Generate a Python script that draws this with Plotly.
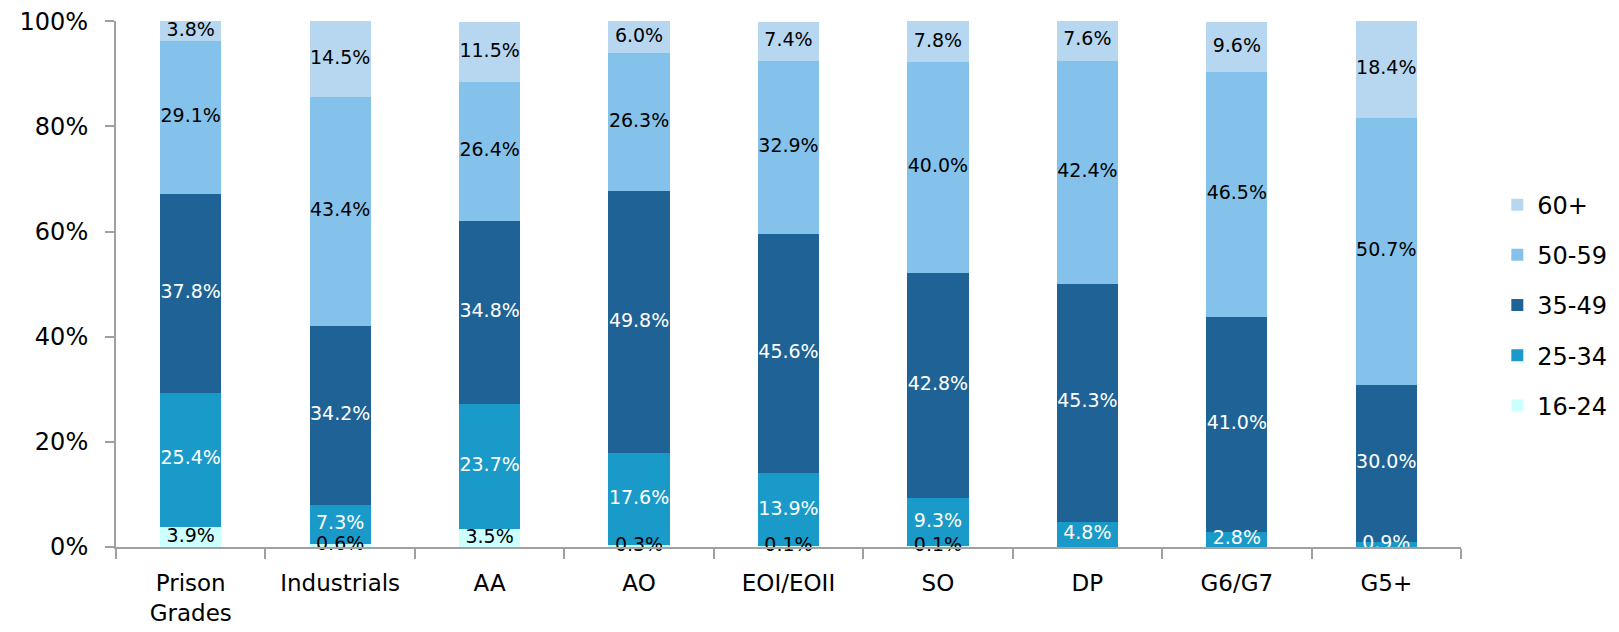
import plotly.graph_objects as go

categories = ["Prison<br>Grades", "Industrials", "AA", "AO", "EOI/EOII", "SO", "DP", "G6/G7", "G5+"]
series_names = ["16-24", "25-34", "35-49", "50-59", "60+"]
v_16_24 = [3.9, 0.6, 3.5, 0.3, 0.1, 0.1, 0.0, 0.0, 0.0]
v_25_34 = [25.4, 7.3, 23.7, 17.6, 13.9, 9.3, 4.8, 2.8, 0.9]
v_35_49 = [37.8, 34.2, 34.8, 49.8, 45.6, 42.8, 45.3, 41.0, 30.0]
v_50_59 = [29.1, 43.4, 26.4, 26.3, 32.9, 40.0, 42.4, 46.5, 50.7]
v_60p = [3.8, 14.5, 11.5, 6.0, 7.4, 7.8, 7.6, 9.6, 18.4]
y_ticks = [0, 20, 40, 60, 80, 100]
y_tick_labels = ["0%", "20%", "40%", "60%", "80%", "100%"]

values = [v_16_24, v_25_34, v_35_49, v_50_59, v_60p]
colors = ["#CCFFFF", "#199AC9", "#1F6396", "#85C2EB", "#B7D7F0"]
label_colors = ["#000000", "#FFFFFF", "#FFFFFF", "#000000", "#000000"]

FONT = "DejaVu Sans"
fig = go.Figure()
n = len(series_names)
for i, (name, vals) in enumerate(zip(series_names, values)):
    fig.add_trace(go.Bar(
        x=categories, y=vals, name=name, legendgroup=name,
        legendrank=n - i,
        marker=dict(color=colors[i], line=dict(width=0)),
        width=0.41, hoverinfo="skip",
    ))

# labels at segment centres
base = [0.0] * len(categories)
for i, vals in enumerate(values):
    xs, ys, ts = [], [], []
    for j, v in enumerate(vals):
        if v > 0:
            xs.append(categories[j])
            ys.append(base[j] + v / 2)
            ts.append(f"{v:.1f}%")
        base[j] += v
    fig.add_trace(go.Scatter(
        x=xs, y=ys, text=ts, mode="text", showlegend=False,
        textfont=dict(family=FONT, size=19, color=label_colors[i]),
        cliponaxis=False, hoverinfo="skip",
    ))

fig.update_layout(
    barmode="stack",
    width=1619, height=632,
    margin=dict(l=108, r=166, t=13, b=93, autoexpand=False),
    plot_bgcolor="white", paper_bgcolor="white",
    font=dict(family=FONT, size=23, color="#000000"),
    legend=dict(
        x=1.027, y=0.46, xanchor="left", yanchor="middle",
        traceorder="grouped", tracegroupgap=16,
        font=dict(family=FONT, size=24), itemwidth=30,
    ),
    xaxis=dict(
        type="category", tickson="boundaries", ticks="outside", ticklen=10,
        tickwidth=2, tickcolor="#A0A0A0", showline=True, linecolor="#A0A0A0",
        linewidth=2, showgrid=False, tickfont=dict(family=FONT, size=23),
        ticklabelstandoff=14, automargin=False, ticklabeloverflow="allow",
    ),
    yaxis=dict(
        range=[0, 100.05], tickvals=y_ticks, ticktext=y_tick_labels,
        ticks="outside", ticklen=9, tickwidth=2, tickcolor="#A0A0A0",
        showline=True, linecolor="#A0A0A0", linewidth=2, showgrid=False,
        zeroline=False, tickfont=dict(family=FONT, size=24),
        ticklabelstandoff=12, automargin=False, ticklabeloverflow="allow",
    ),
)

fig.write_html("out.html")
